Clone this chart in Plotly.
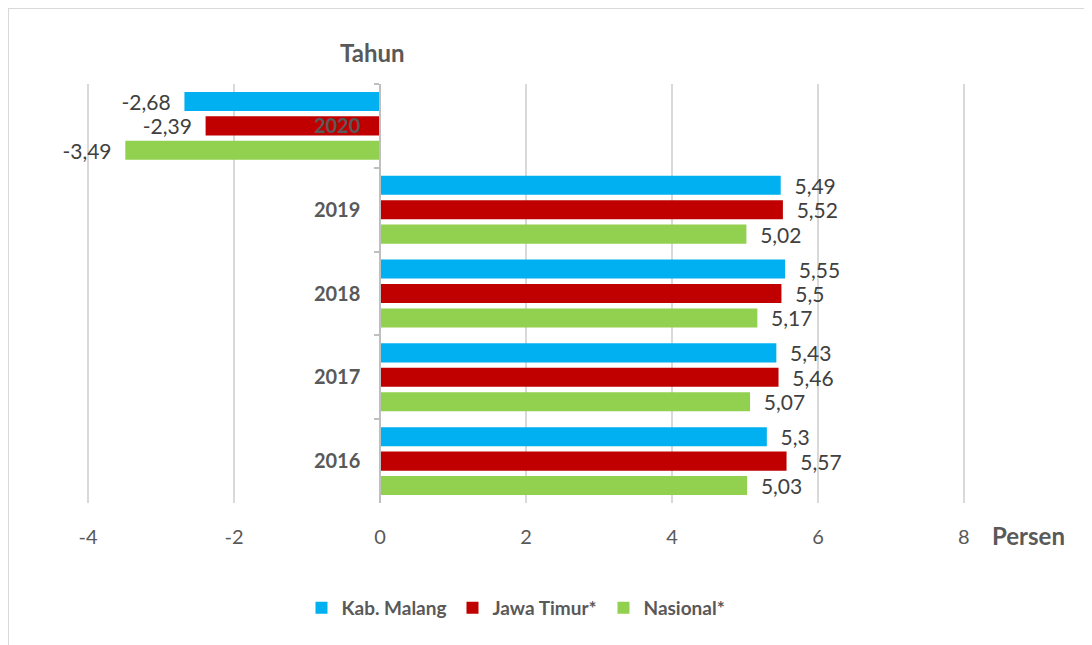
import plotly.graph_objects as go

years = ["2020", "2019", "2018", "2017", "2016"]
kab_malang = [-2.68, 5.49, 5.55, 5.43, 5.30]
jawa_timur = [-2.39, 5.52, 5.50, 5.46, 5.57]
nasional = [-3.49, 5.02, 5.17, 5.07, 5.03]
x_ticks = [-4, -2, 0, 2, 4, 6, 8]
x_tick_text = ["-4", "-2", "0", "2", "4", "6", "8"]

series = [
    ("Kab. Malang", kab_malang, "#00B0F0"),
    ("Jawa Timur*", jawa_timur, "#C00000"),
    ("Nasional*", nasional, "#92D050"),
]

NB = "\u00a0"


def fmt(v):
    s = ("%g" % v).replace(".", ",")
    return s + NB * 2 if v < 0 else NB * 2 + s


fig = go.Figure()
for name, vals, col in series:
    fig.add_trace(go.Bar(
        y=years, x=vals, orientation="h", name=name,
        marker=dict(color=col, line=dict(width=0)),
        text=[fmt(v) for v in vals], textposition="outside",
        constraintext="none",
        textfont=dict(family="Lato", size=21, color="#404040"),
        cliponaxis=False,
    ))

# The page has an 8px body offset; plot area placed at screen x ~88..964, y 84..503
fig.update_layout(
    width=1084, height=637,
    paper_bgcolor="white", plot_bgcolor="white",
    margin=dict(l=79, r=127, t=76, b=142),
    barmode="group", bargap=0.125, bargroupgap=0.22,
    font=dict(family="Lato", color="#595959"),
    showlegend=True,
    legend=dict(orientation="h", x=(302 - 88) / 876, xanchor="left", y=-(608 - 503) / 419, yanchor="middle",
                font=dict(family="Lato", size=19, color="#595959", weight="bold"),
                itemwidth=30, entrywidth=106, entrywidthmode="pixels", traceorder="normal"),
)

fig.update_xaxes(
    range=[-4.015, 8.015], tickvals=x_ticks, ticktext=x_tick_text,
    showgrid=True, gridcolor="#D9D9D9", gridwidth=2,
    zeroline=False, showline=False, ticks="",
    tickfont=dict(family="Lato", size=20, color="#595959"),
    ticklabelstandoff=20,
)

fig.update_yaxes(
    type="category", categoryorder="array", categoryarray=years,
    autorange="reversed",
    anchor="free", position=4.015 / 12.03,
    showline=True, linecolor="#BFBFBF", linewidth=1.5,
    ticks="outside", tickson="boundaries", ticklen=5, tickcolor="#BFBFBF", tickwidth=1.5,
    showgrid=False, zeroline=False,
    tickfont=dict(family="Lato", size=20, color="#595959", weight="bold"),
    ticklabelstandoff=15,
)

fig.add_annotation(text="<b>Tahun</b>", xref="paper", yref="paper",
                   x=(372 - 87) / 878, y=1 + (84 - 53) / 419,
                   showarrow=False, font=dict(family="Lato", size=24, color="#595959"),
                   xanchor="center", yanchor="middle")
fig.add_annotation(text="<b>Persen</b>", xref="paper", yref="paper",
                   x=(1029 - 87) / 878, y=-(535 - 503) / 419,
                   showarrow=False, font=dict(family="Lato", size=24, color="#595959"),
                   xanchor="center", yanchor="middle")

fig.add_shape(type="rect", xref="paper", yref="paper",
              x0=(8 - 87) / 878, x1=(1110 - 87) / 878,
              y0=(503 - 660) / 419, y1=1 + (84 - 8) / 419,
              line=dict(color="#D9D9D9", width=2), fillcolor="rgba(0,0,0,0)", layer="below")

fig.write_html("out.html")
